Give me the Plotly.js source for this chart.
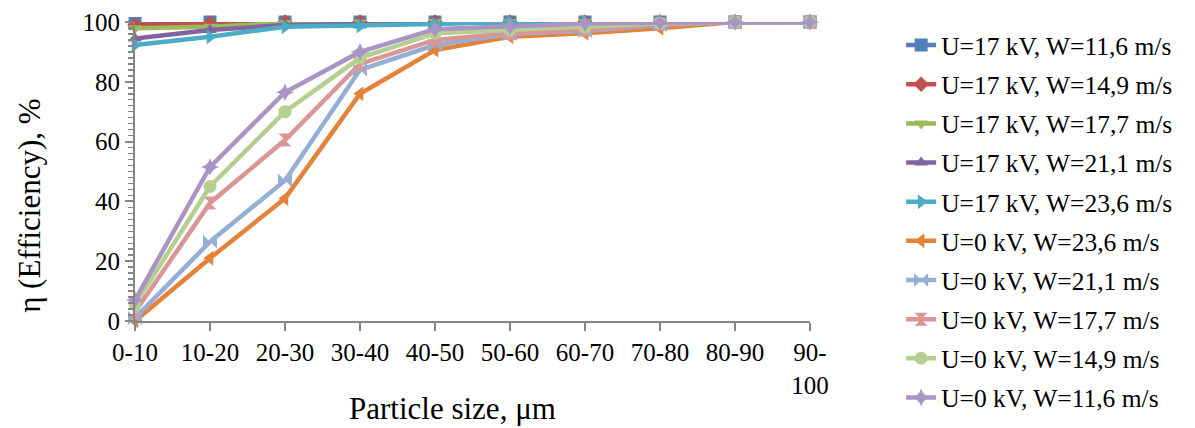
<!DOCTYPE html>
<html><head><meta charset="utf-8">
<script src="https://cdn.plot.ly/plotly-3.0.1.min.js"></script>
<style>html,body{margin:0;padding:0;background:#fff}#chart{width:1195px;height:428px}</style>
</head><body><div id="chart"></div>
<script>
const categories = ["0-10","10-20","20-30","30-40","40-50","50-60","60-70","70-80","80-90","90-<br>100"];
const seriesNames = ["U=17 kV, W=11,6 m/s","U=17 kV, W=14,9 m/s","U=17 kV, W=17,7 m/s","U=17 kV, W=21,1 m/s","U=17 kV, W=23,6 m/s","U=0 kV, W=23,6 m/s","U=0 kV, W=21,1 m/s","U=0 kV, W=17,7 m/s","U=0 kV, W=14,9 m/s","U=0 kV, W=11,6 m/s"];
const xTitle = "Particle size, μm";
const yTitle = "η (Efficiency), %";
const u17_w116 = [99.5, 100, 100, 100, 100, 100, 100, 100, 100, 100];
const u17_w149 = [99, 99.5, 100, 100, 100, 100, 100, 100, 100, 100];
const u17_w177 = [97.9, 98.4, 99.7, 99.8, 100, 100, 100, 100, 100, 100];
const u17_w211 = [94.5, 97.3, 99, 99.2, 99.6, 100, 100, 100, 100, 100];
const u17_w236 = [92.3, 95.1, 98.4, 98.7, 99.3, 100, 100, 100, 100, 100];
const u0_w236 = [0, 21, 41, 76, 90.6, 95.1, 96.2, 97.9, 100, 100];
const u0_w211 = [1, 26.5, 47, 84, 92.3, 96, 97, 99, 100, 100];
const u0_w177 = [3, 39.5, 60.5, 86, 94, 96.2, 97.3, 99.3, 100, 100];
const u0_w149 = [5.4, 45, 70, 88, 96.2, 97.3, 98.4, 99.6, 100, 100];
const u0_w116 = [7, 51.5, 76.5, 90, 97.6, 98.4, 99.5, 99.8, 100, 100];
const seriesValues = [u17_w116,u17_w149,u17_w177,u17_w211,u17_w236,u0_w236,u0_w211,u0_w177,u0_w149,u0_w116];

const colors = ["#4F81BD","#C0504D","#9BBB59","#8064A2","#4BACC6","#E5823A","#94AED6","#D99694","#B5CF90","#A994C3"];
const symbols = ["square","diamond","triangle-down","triangle-up","triangle-right","triangle-left","bowtie","hourglass","circle","star-diamond"];
const sizes = [13,12,12,12,13,13,14,13,13,13];

const traces = seriesValues.map((v,i)=>({
  type:"scatter", mode:"lines+markers", x:categories, y:v, name:seriesNames[i],
  legendgroup:"g"+i, cliponaxis:false,
  line:{color:colors[i], width:4.5},
  marker:{symbol:symbols[i], size:sizes[i], color:colors[i]}
}));

const FAM = "Liberation Serif";
const f = (s)=>({family:FAM, size:s, color:"#000"});
const layout = {
  width:1195, height:428,
  font:{family:FAM, color:"#000"},
  margin:{l:135, r:385, t:22, b:107},
  paper_bgcolor:"#fff", plot_bgcolor:"#fff",
  showlegend:true,
  legend:{x:1.135, y:1.0, xanchor:"left", yanchor:"top", font:f(25.5),
          traceorder:"grouped", tracegroupgap:3, maxheight:428, borderwidth:0},
  xaxis:{type:"category", range:[0,9], showgrid:false, zeroline:false,
         showline:true, linecolor:"#868686", linewidth:2,
         ticks:"outside", ticklen:8, tickwidth:2, tickcolor:"#868686",
         tickfont:f(25)},
  yaxis:{range:[0,100], dtick:20, showgrid:false, zeroline:false,
         showline:true, linecolor:"#868686", linewidth:2,
         ticks:"outside", ticklen:8, tickwidth:2, tickcolor:"#868686",
         minor:{dtick:2, ticks:"outside", ticklen:5, tickwidth:1.5, tickcolor:"#868686", showgrid:false},
         tickfont:f(25)},
  annotations:[
    {text:xTitle, xref:"paper", yref:"paper", x:0.471, y:-0.291, xanchor:"center", yanchor:"middle", showarrow:false, font:f(31)},
    {text:yTitle, xref:"paper", yref:"paper", x:-0.1556, y:0.385, xanchor:"center", yanchor:"middle", textangle:-90, showarrow:false, font:f(31)}
  ]
};
Plotly.newPlot("chart", traces, layout, {displayModeBar:false, staticPlot:true});
</script></body></html>
